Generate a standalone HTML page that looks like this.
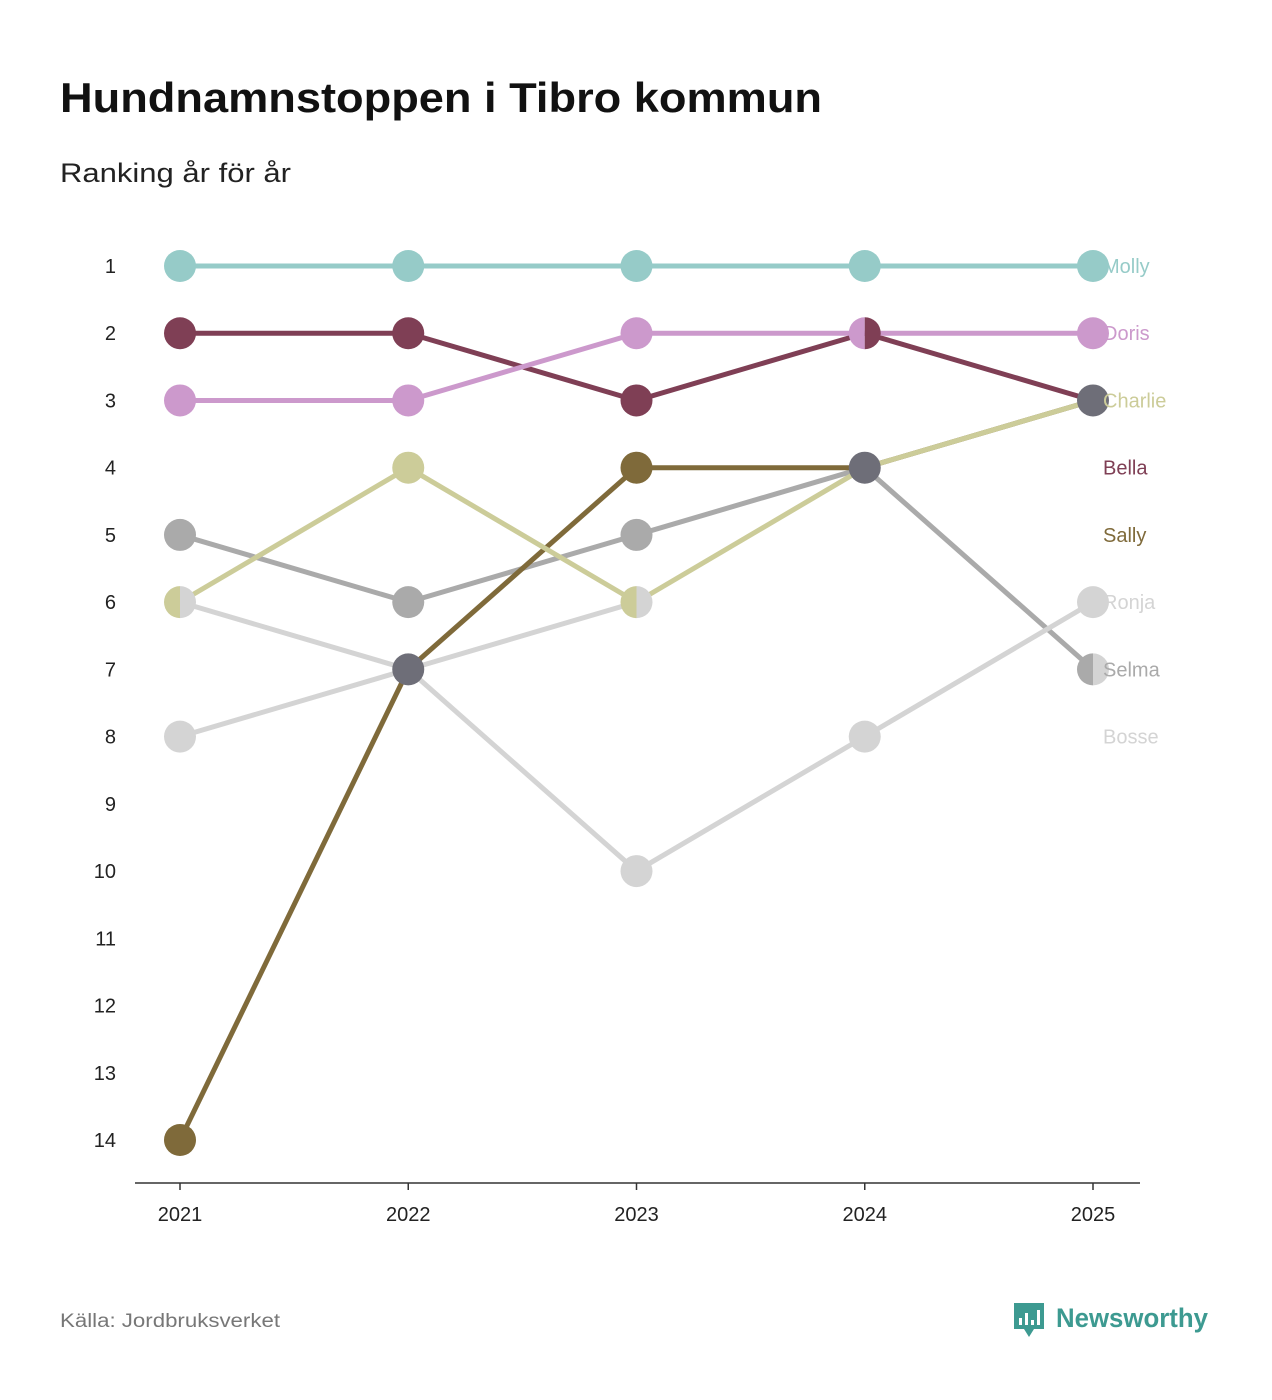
<!DOCTYPE html>
<html><head><meta charset="utf-8"><style>
body{margin:0;background:#fff;font-family:"Liberation Sans","DejaVu Sans",sans-serif;}
#wrap{position:relative;width:1272px;height:1400px;overflow:hidden;}
</style></head><body>
<div id="wrap">
<svg id="svg" width="1272" height="1400">
<text x="60" y="112" font-size="42" font-weight="bold" fill="#111" textLength="762" lengthAdjust="spacingAndGlyphs">Hundnamnstoppen i Tibro kommun</text>
<text x="60" y="182" font-size="27" fill="#222" textLength="231" lengthAdjust="spacingAndGlyphs">Ranking år för år</text>
<text x="60" y="1327" font-size="19" fill="#777" textLength="220" lengthAdjust="spacingAndGlyphs">Källa: Jordbruksverket</text>
<g>
<path d="M1014 1303 h30 v26 h-10 l-5 8 l-5 -8 h-10 z" fill="#3d9a91"/>
<rect x="1019" y="1318" width="3" height="7" fill="#fff"/><rect x="1025" y="1313" width="3" height="12" fill="#fff"/><rect x="1031" y="1320" width="3" height="5" fill="#fff"/><rect x="1037" y="1310" width="3" height="15" fill="#fff"/>
<text x="1056" y="1327" font-size="27" font-weight="bold" fill="#3d9a91" textLength="152" lengthAdjust="spacingAndGlyphs">Newsworthy</text>
</g>
<g id="axes"></g><g id="lines"></g><g id="dots"></g><g id="labels"></g>
</svg>
</div>
<script>
const years=[2021,2022,2023,2024,2025];
const names=["Molly","Doris","Charlie","Bella","Sally","Ronja","Selma","Bosse"];
const molly=[1,1,1,1,1];
const doris=[3,3,2,2,2];
const charlie=[6,4,6,4,3];
const bella=[2,2,3,2,3];
const sally=[14,7,4,4,3];
const ronja=[6,7,10,8,6];
const selma=[5,6,5,4,7];
const bosse=[8,7,6,null,7];
const yTicks=[1,2,3,4,5,6,7,8,9,10,11,12,13,14];
const series=[molly,doris,charlie,bella,sally,ronja,selma,bosse];
const colors=["#96cbc8","#cc99cc","#cccc99","#7f3f55","#7f6a3a","#d4d4d4","#aaaaaa","#d4d4d4"];
const NS="http://www.w3.org/2000/svg";
const x=i=>180+i*(1093-180)/(years.length-1);
const y=r=>266+(r-1)*(1140-266)/13;
function mk(tag,attrs,parent){const e=document.createElementNS(NS,tag);for(const k in attrs)e.setAttribute(k,attrs[k]);document.getElementById(parent).appendChild(e);return e;}
let a=mk("line",{x1:135,x2:1140,y1:1183,y2:1183,stroke:"#333","stroke-width":1.5},"axes");


years.forEach((yr,i)=>{
 const t=mk("line",{x1:x(i),x2:x(i),y1:1183,y2:1190,stroke:"#333","stroke-width":1.5},"axes");
 
 
 const l=mk("text",{x:x(i),y:1221,"font-size":20,fill:"#222","text-anchor":"middle"},"axes");l.textContent=yr;
 
 
});
yTicks.forEach(r=>{
 const l=mk("text",{x:116,y:y(r)+7,"font-size":20,fill:"#222","text-anchor":"end"},"axes");l.textContent=r;
 
 
});
for(let k=series.length-1;k>=0;k--){
 const s=series[k];
 for(let i=0;i<s.length-1;i++){
  if(s[i]==null||s[i+1]==null)continue;
  const ln=mk("line",{x1:x(i),y1:y(s[i]),x2:x(i+1),y2:y(s[i+1]),stroke:colors[k],"stroke-width":5},"lines");
  
  
 }
}
years.forEach((yr,i)=>{
 const groups={};
 series.forEach((s,k)=>{if(s[i]!=null)(groups[s[i]]=groups[s[i]]||[]).push(k);});
 for(const r in groups){
  const g=groups[r],cx=x(i),cy=y(+r),R=16;
  if(g.length===1){
   const c=mk("circle",{cx,cy,r:R,fill:colors[g[0]]},"dots");
   
   
  }else if(g.length===2){
   const p1=mk("path",{d:`M${cx} ${cy-R} A${R} ${R} 0 0 0 ${cx} ${cy+R} Z`,fill:colors[g[0]]},"dots");
   
   
   const p2=mk("path",{d:`M${cx} ${cy-R} A${R} ${R} 0 0 1 ${cx} ${cy+R} Z`,fill:colors[g[1]]},"dots");
   
   
  }else{
   const c=mk("circle",{cx,cy,r:R,fill:"#6e6e78"},"dots");
   
   
  }
 }
});
names.forEach((n,k)=>{
 const l=mk("text",{x:1103,y:y(k+1)+7,"font-size":20,fill:colors[k]},"labels");l.textContent=n;
 
 
});
</script>
</body></html>
